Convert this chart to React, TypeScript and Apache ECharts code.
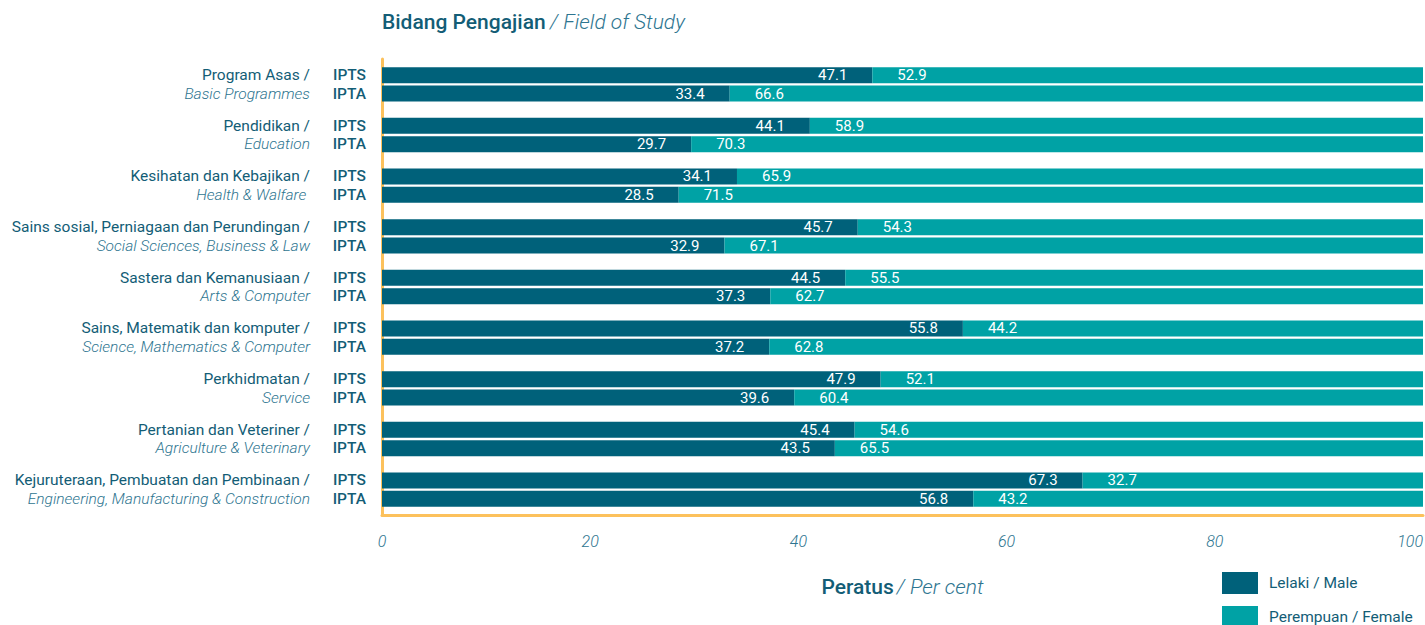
import React, { useEffect, useRef } from "react";
import * as echarts from "echarts";

const groupsMs = [
  "Program Asas /",
  "Pendidikan /",
  "Kesihatan dan Kebajikan /",
  "Sains sosial, Perniagaan dan Perundingan /",
  "Sastera dan Kemanusiaan /",
  "Sains, Matematik dan komputer /",
  "Perkhidmatan /",
  "Pertanian dan Veteriner /",
  "Kejuruteraan, Pembuatan dan Pembinaan /",
];
const groupsEn = [
  "Basic Programmes",
  "Education",
  "Health & Walfare ",
  "Social Sciences, Business & Law",
  "Arts & Computer",
  "Science, Mathematics & Computer",
  "Service",
  "Agriculture & Veterinary",
  "Engineering, Manufacturing & Construction",
];
const institutions = ["IPTS", "IPTA"];

// bar lengths as drawn
const maleIPTS = [47.1, 41.1, 34.1, 45.7, 44.5, 55.8, 47.9, 45.4, 67.3];
// numbers as printed on the bars
const maleIPTSLabels = ["47.1", "44.1", "34.1", "45.7", "44.5", "55.8", "47.9", "45.4", "67.3"];
const femaleIPTS = [52.9, 58.9, 65.9, 54.3, 55.5, 44.2, 52.1, 54.6, 32.7];
const maleIPTA = [33.4, 29.7, 28.5, 32.9, 37.3, 37.2, 39.6, 43.5, 56.8];
const femaleIPTA = [66.6, 70.3, 71.5, 67.1, 62.7, 62.8, 60.4, 65.5, 43.2];

const xTicks = [0, 20, 40, 60, 80, 100];

const MALE = "#00617a";
const FEMALE = "#00a2a5";
const DARK = "#135d76";
const LIGHT = "#2e7590";
const ORANGE = "#fcc15c";
const FONT = "Roboto, 'Noto Sans', sans-serif";

export default function App() {
  const ref = useRef<HTMLDivElement>(null);
  useEffect(() => {
    if (!ref.current) return;
    const chart = echarts.init(ref.current, undefined, { renderer: "svg" });
    const cats = groupsMs.map((_, i) => String(i));
    const barLabel = (pos: string) => ({
      show: true,
      position: pos,
      distance: 25,
      color: "#ffffff",
      fontSize: 15,
      fontFamily: FONT,
    });
    const common = {
      type: "bar",
      barWidth: 16,
      barGap: "15%",
      clip: true,
      yAxisIndex: 0,
    };
    chart.setOption({
      animation: false,
      textStyle: { fontFamily: FONT },
      title: {
        left: 377,
        top: 6,
        text: "{b|Bidang Pengajian} {i|/ Field of Study}",
        textStyle: {
          rich: {
            b: { fontSize: 21, fontWeight: 500, color: DARK, fontFamily: FONT },
            i: { fontSize: 21, fontStyle: "italic", fontWeight: 300, color: LIGHT, fontFamily: FONT },
          },
        },
      },
      legend: {
        orient: "vertical",
        left: 1222,
        top: 572,
        height: 80,
        padding: 0,
        itemWidth: 36,
        itemHeight: 22,
        itemGap: 12,
        icon: "rect",
        data: ["Lelaki / Male", "Perempuan / Female"],
        textStyle: { fontSize: 15.5, color: DARK, fontFamily: FONT, padding: [0, 0, 0, 6] },
      },
      grid: { left: 382, right: 2, top: 59, height: 456, outerBoundsMode: "none", containLabel: false },
      xAxis: {
        type: "value",
        min: xTicks[0],
        max: xTicks[xTicks.length - 1],
        interval: 20,
        axisLine: { show: true, lineStyle: { color: ORANGE, width: 3 } },
        axisTick: { show: false },
        splitLine: { show: false },
        axisLabel: {
          margin: 18,
          fontSize: 16,
          fontStyle: "italic",
          fontWeight: 300,
          color: LIGHT,
          fontFamily: FONT,
          alignMaxLabel: "right",
        },
        name: "{b|Peratus} {i|/ Per cent}",
        nameLocation: "middle",
        nameGap: 61,
        nameTextStyle: {
          rich: {
            b: { fontSize: 21, fontWeight: 500, color: DARK, fontFamily: FONT },
            i: { fontSize: 21, fontStyle: "italic", fontWeight: 300, color: LIGHT, fontFamily: FONT },
          },
        },
      },
      yAxis: [
        {
          type: "category",
          data: cats,
          inverse: true,
          axisLine: { show: true, lineStyle: { color: ORANGE, width: 3 } },
          axisTick: { show: false },
          axisLabel: {
            interval: 0,
            margin: 16,
            align: "right",
            formatter: () => institutions.map((t) => `{a|${t}}`).join("\n"),
            rich: {
              a: { fontSize: 15.5, fontWeight: 500, color: DARK, lineHeight: 18.5, fontFamily: FONT, align: "right" },
            },
          },
        },
        {
          type: "category",
          data: cats,
          inverse: true,
          position: "left",
          axisLine: { show: false },
          axisTick: { show: false },
          axisLabel: {
            interval: 0,
            margin: 72,
            align: "right",
            formatter: (_v: string, i: number) => `{n|${groupsMs[i]}}\n{e|${groupsEn[i]}}`,
            rich: {
              n: { fontSize: 15.5, color: DARK, lineHeight: 18.5, fontFamily: FONT, align: "right" },
              e: { fontSize: 15.5, fontStyle: "italic", fontWeight: 300, color: LIGHT, lineHeight: 18.5, fontFamily: FONT, align: "right" },
            },
          },
        },
      ],
      series: [
        {
          ...common,
          name: "Lelaki / Male",
          stack: "IPTS",
          itemStyle: { color: MALE },
          label: { ...barLabel("insideRight"), formatter: (p: any) => maleIPTSLabels[p.dataIndex] },
          data: maleIPTS,
        },
        {
          ...common,
          name: "Perempuan / Female",
          stack: "IPTS",
          itemStyle: { color: FEMALE },
          label: barLabel("insideLeft"),
          data: femaleIPTS,
        },
        {
          ...common,
          name: "Lelaki / Male",
          stack: "IPTA",
          itemStyle: { color: MALE },
          label: barLabel("insideRight"),
          data: maleIPTA,
        },
        {
          ...common,
          name: "Perempuan / Female",
          stack: "IPTA",
          itemStyle: { color: FEMALE },
          label: barLabel("insideLeft"),
          data: femaleIPTA,
        },
      ],
    });
    return () => chart.dispose();
  }, []);
  return (
    <div
      ref={ref}
      style={{ position: "fixed", left: 0, top: 0, width: 1425, height: 625, background: "#ffffff" }}
    />
  );
}
